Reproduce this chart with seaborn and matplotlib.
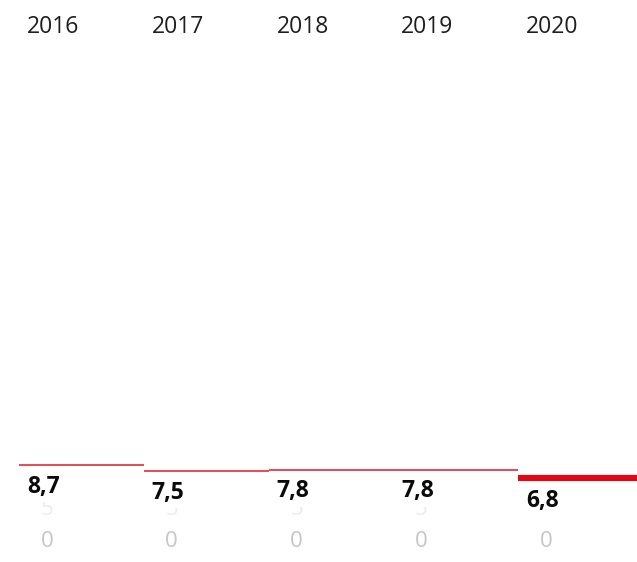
import matplotlib
matplotlib.use("Agg")
import matplotlib.pyplot as plt
import matplotlib.transforms as mtransforms
import seaborn as sns

# data
years = ["2016", "2017", "2018", "2019", "2020"]
values = [8.7, 7.5, 7.8, 7.8, 6.8]
labels = ["8,7", "7,5", "7,8", "7,8", "6,8"]
axis_ticks = ["5", "0"]

sns.set_theme(style="white")
plt.rcParams["font.family"] = ["Open Sans", "DejaVu Sans"]

W, H = 637, 562
col = 124.75
fig = plt.figure(figsize=(W / 100, H / 100), dpi=100)
ax = fig.add_axes([19 / W, 0, col * len(years) / W, 1])
ax.set_xlim(0, len(years))
ax.set_ylim(-10.7, 101.7)
ax.axis("off")

red_thin = "#e01a26"
red_bold = "#e30613"
blend = mtransforms.blended_transform_factory(ax.transData, fig.transFigure)
pad_x = 8 / col

for i, (yr, v, lab) in enumerate(zip(years, values, labels)):
    last = i == len(years) - 1
    if last:
        # thick highlighted segment hangs below the value
        tr = mtransforms.offset_copy(ax.transData, fig=fig, y=-3.2, units="dots")
        ax.hlines(v, i, i + 1, colors=red_bold, linewidth=4.4, transform=tr, zorder=3)
    else:
        ax.hlines(v, i, i + 1, colors=red_thin, linewidth=1.1, zorder=3)

    # year header
    ax.text(i + pad_x, 1 - 33.3 / H, yr, transform=blend, ha="left", va="baseline",
            fontsize=16.5, color="#1e1e1e")

    # faint axis ticks
    ax.text(i + 28 / col, 1 - 515 / H, axis_ticks[0], transform=blend, ha="center",
            va="baseline", fontsize=16, color="#ececec", zorder=1)
    ax.text(i + 28 / col, 1 - 546.7 / H, axis_ticks[1], transform=blend, ha="center",
            va="baseline", fontsize=16, color="#c6c6c6", zorder=1)

    # value label
    off = -23.4 if last else -19.9
    ax.annotate(lab, xy=(i + pad_x, v), xytext=(0, off), textcoords="offset points",
                ha="left", va="baseline", fontsize=16.5, fontweight="bold", color="#0a0a0a",
                bbox=dict(boxstyle="square,pad=0.15", fc="white", ec="none"), zorder=4)

fig.savefig("out.png", dpi=100)
